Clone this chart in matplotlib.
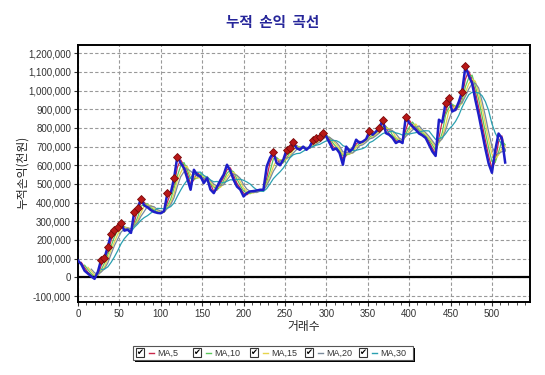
import matplotlib
matplotlib.use("Agg")
import matplotlib.pyplot as plt
from matplotlib.ticker import FuncFormatter, MultipleLocator
from matplotlib.patches import Rectangle
import numpy as np
import pandas as pd

plt.rcParams['font.family'] = ['Noto Sans CJK KR', 'DejaVu Sans']

# cumulative P&L (won), one reading every 4 trades
step = 4
pnl = [
    90, 70, 35, 20, 5, -8, 30, 95, 105, 165,
    230, 255, 270, 290, 250, 255, 238, 352, 370, 419,
    385, 375, 360, 350, 345, 343, 355, 451, 451, 530,
    647, 612, 585, 530, 469, 576, 549, 540, 505, 531,
    470, 451, 486, 520, 550, 603, 570, 522, 486, 470,
    433, 451, 460, 462, 465, 469, 469, 594, 640, 669,
    612, 600, 630, 683, 692, 722, 692, 683, 700, 683,
    700, 737, 746, 754, 772, 754, 719, 683, 690, 665,
    603, 700, 674, 690, 737, 720, 727, 740, 781, 763,
    781, 799, 844, 772, 763, 746, 719, 730, 719, 861,
    826, 808, 790, 770, 760, 746, 710, 674, 650, 844,
    830, 933, 960, 888, 897, 940, 995, 1129, 1080, 1040,
    950, 870, 780, 690, 610, 560, 680, 770, 745, 615,
]
ma_periods = [5, 10, 15, 20, 30]
ma_colors = ['#c8284a', '#5cc85c', '#e6d44c', '#7a8a9a', '#2aa0b0']

title = '누적  손익  곡선'
xlabel = '거래수'
ylabel = '누적손익(천원)'

trades = np.arange(len(pnl)) * step
series = pd.Series(np.array(pnl) * 1000.0, index=trades)

fig = plt.figure(figsize=(5.45, 3.75), dpi=100)
ax = fig.add_axes([78 / 545, 1 - 302 / 375, 452 / 545, 257 / 375])

# moving averages behind the equity line
for p, c in zip(ma_periods, ma_colors):
    win = int(np.ceil(p / step))
    ma = series.rolling(win).mean()
    ax.plot(ma.index, ma.values, color=c, lw=0.9, zorder=2)

ax.plot(series.index, series.values, color='#1e1ec8', lw=1.8, zorder=3)

# new equity highs
prev_max = series.cummax().shift(1)
highs = series[series > prev_max]
ax.plot(highs.index, highs.values, 'D', ms=3.6, mfc='#b81818', mec='#7a0a0a',
        mew=0.6, zorder=4)

ax.axhline(0, color='black', lw=1.6, zorder=2)

ax.set_xlim(0, 546)
ax.set_ylim(-132000, 1244000)
ax.xaxis.set_major_locator(MultipleLocator(50))
ax.xaxis.set_minor_locator(MultipleLocator(10))
ax.yaxis.set_major_locator(MultipleLocator(100000))
ax.yaxis.set_major_formatter(FuncFormatter(lambda v, pos: f'{int(round(v)):,}'))

ax.grid(True, which='major', color='#999999', ls=(0, (3, 2)), lw=0.8)
ax.tick_params(which='major', length=3, width=0.8, labelsize=7, colors='#333333', pad=2)
ax.tick_params(which='minor', length=2, width=0.6, colors='#333333')
for lab in ax.get_xticklabels() + ax.get_yticklabels():
    lab.set_family('Liberation Sans')
for s in ax.spines.values():
    s.set_linewidth(1.4)
    s.set_color('black')

fig.text(0.5, 1 - 22 / 375, title, ha='center', va='center', fontsize=10.5,
         fontweight='bold', color='#26269a')
ax.set_xlabel(xlabel, fontsize=8.5, color='#222222', labelpad=1)
fig.text(22 / 545, 1 - 172 / 375, ylabel, rotation=90, ha='center', va='center',
         fontsize=8.5, color='#222222')

# legend strip with check boxes, laid out in pixel coordinates
lg = fig.add_axes([0, 0, 1, 1], zorder=5)
lg.set_xlim(0, 545)
lg.set_ylim(375, 0)
lg.axis('off')
lg.add_patch(Rectangle((135, 348), 280, 14, fc='black', ec='none'))
lg.add_patch(Rectangle((133, 346), 280, 14, fc='white', ec='#555555', lw=0.8))
box_x = [136, 193, 250, 305, 359]
for bx, p, c in zip(box_x, ma_periods, ma_colors):
    lg.add_patch(Rectangle((bx, 348), 8, 9, fc='white', ec='#333333', lw=0.8))
    lg.text(bx + 4, 352.8, '✔', ha='center', va='center', fontsize=6,
            family='DejaVu Sans', color='black')
    lg.plot([bx + 13, bx + 18], [353, 353], color=c, lw=1)
    lg.text(bx + 21, 353, f'MA,{p}', ha='left', va='center', fontsize=6.5,
            family='Liberation Sans', color='#333333')

fig.savefig('out.png', dpi=100)
